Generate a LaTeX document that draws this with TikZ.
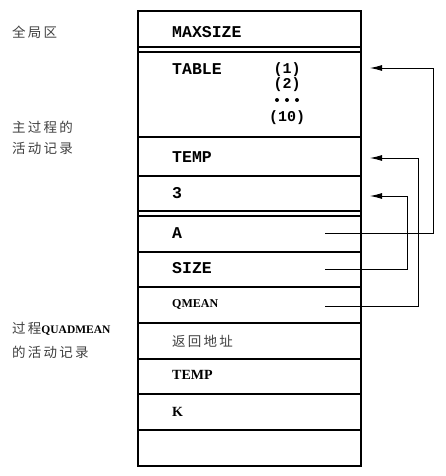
\documentclass[tikz,border=0pt]{standalone}
\usepackage{fontspec}
\setmainfont{Liberation Serif}
\newfontfamily\cour{Liberation Mono}
\newfontfamily\cjk{Noto Sans CJK SC}
\usetikzlibrary{arrows.meta}
\begin{document}
\begin{tikzpicture}[x=1pt,y=-1pt,
  rowbox/.style={draw, line width=1.2pt},
  ctext/.style={anchor=west, inner sep=0pt, font=\cour\bfseries\fontsize{16.5}{18}\selectfont},
  stext/.style={anchor=west, inner sep=0pt, font=\bfseries\fontsize{14}{15}\selectfont},
  cjktext/.style={anchor=west, inner sep=0pt, text=black!75, font=\cjk\fontsize{13.5}{15}\selectfont},
  idx/.style={anchor=center, inner sep=0pt, font=\cour\bfseries\fontsize{15}{16}\selectfont},
  dotmark/.style={circle, fill=black, inner sep=0pt, minimum size=4pt},
  arr/.style={line width=0.9pt, -{Latex[length=12pt,width=6pt]}}]
\useasboundingbox (0,0) rectangle (445,476);
% outer frame
\draw[line width=1.2pt] (138,11) rectangle (361,466);
% rows
\draw[rowbox] (138,11) rectangle (361,47);
\draw[rowbox] (138,52) rectangle (361,137);
\draw[rowbox] (138,137) rectangle (361,176);
\draw[rowbox] (138,176) rectangle (361,211);
\draw[rowbox] (138,216) rectangle (361,252);
\draw[rowbox] (138,252) rectangle (361,287);
\draw[rowbox] (138,287) rectangle (361,323);
\draw[rowbox] (138,323) rectangle (361,359);
\draw[rowbox] (138,359) rectangle (361,394);
\draw[rowbox] (138,394) rectangle (361,430);
\draw[rowbox] (138,430) rectangle (361,466);
% left labels
\node[cjktext] (lg) at (12,32) {全\,局\,区};
\node[cjktext] (lm1) at (12,127) {主\,过\,程\,的};
\node[cjktext] (lm2) at (12,148) {活\,动\,记\,录};
\node[anchor=west, inner sep=0pt] (lq1) at (12,329) {{\cjk\color{black!75}\fontsize{13.5}{15}\selectfont 过\,程}{\bfseries\fontsize{11.5}{13}\selectfont QUADMEAN}};
\node[cjktext] (lq2) at (12,352) {的\,活\,动\,记\,录};
% row texts
\node[ctext] (tmax) at (172,32) {MAXSIZE};
\node[ctext] (ttab) at (172,69) {TABLE};
\node[idx] (i1) at (287,70) {(1)};
\node[idx] (i2) at (287,85) {(2)};
\node[dotmark] (d1) at (277,100) {};
\node[dotmark] (d2) at (287,100) {};
\node[dotmark] (d3) at (297,100) {};
\node[idx] (i10) at (287,118) {(10)};
\node[ctext] (ttemp) at (172,157) {TEMP};
\node[ctext] (tthree) at (172,193) {3};
\node[ctext] (ta) at (172,233) {A};
\node[ctext] (tsize) at (172,268) {SIZE};
\node[stext, font=\bfseries\fontsize{12}{13}\selectfont] (tq) at (172,304) {QMEAN};
\node[cjktext] (tret) at (172,341) {返\,回\,地\,址};
\node[stext] (ttemp2) at (172,375) {TEMP};
\node[stext] (tk) at (172,412) {K};
% connector endpoints
\coordinate (aS) at (325,233);
\coordinate (sS) at (325,269);
\coordinate (qS) at (325,306);
\coordinate (tabT) at (370,68);
\coordinate (tempT) at (370,158);
\coordinate (threeT) at (370,196);
\draw[arr] (aS) -- (433,233) |- (tabT);
\draw[arr] (qS) -- (418,306) |- (tempT);
\draw[arr] (sS) -- (407,269) |- (threeT);
\end{tikzpicture}
\end{document}
